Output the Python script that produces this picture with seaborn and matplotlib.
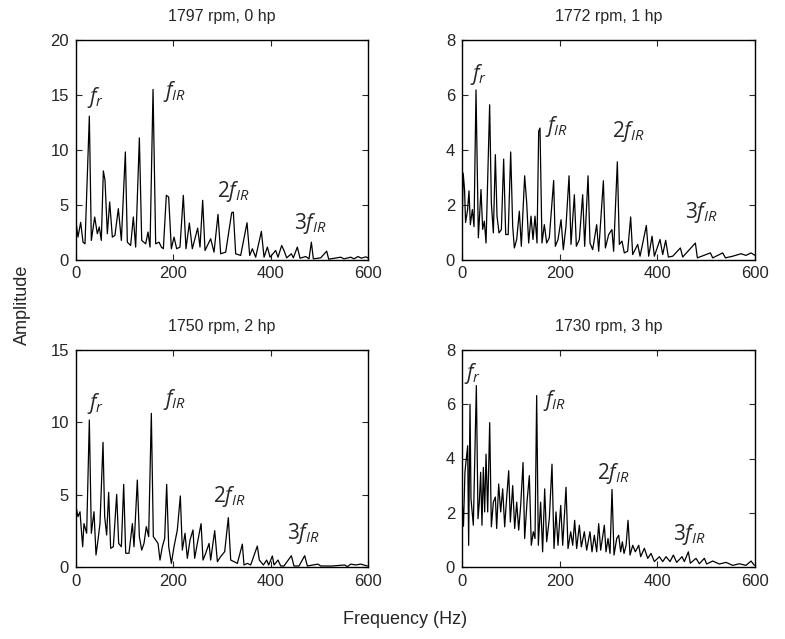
import numpy as np
import pandas as pd
import matplotlib
matplotlib.use("Agg")
import matplotlib.pyplot as plt
import seaborn as sns

# Envelope spectra of the inner-race fault signal at four load conditions
titles = ["1797 rpm, 0 hp", "1772 rpm, 1 hp", "1750 rpm, 2 hp", "1730 rpm, 3 hp"]

freq_0hp = [0, 4.1, 9.6, 14.4, 18.5, 27.4, 31.5, 38.4, 43.8, 47.9, 52, 56.2, 59.6, 64.4,
            69.2, 74.7, 80, 87, 93.2, 101.4, 105.5, 112.3, 117.8, 122.6, 130.2, 135,
            143.2, 148, 152.1, 158.3, 163.7, 170.6, 175.4, 179.5, 185.6, 190.4, 195.9,
            201.4, 206.9, 213.7, 220.5, 226, 232.9, 239, 250, 254.8, 260.3, 265.1,
            276.7, 283.6, 291.8, 297.3, 307.6, 319.9, 323.3, 328.1, 338.4, 351.4,
            356.9, 362.4, 369.2, 380.9, 386.4, 393.2, 398.7, 410.3, 415.1, 422.6,
            427.4, 432.9, 442.5, 446.6, 454.8, 460.3, 472, 478.8, 483.6, 487.7,
            502.8, 515.1, 519.2, 543.9, 550.7, 564.5, 571.3, 579.5, 586.4, 595.3, 600]
amp_0hp = [3.4, 2.04, 3.39, 1.58, 1.43, 13.06, 1.74, 3.87, 2.35, 2.96, 1.74, 8.07, 7.22, 2.35,
           5.24, 2.04, 2.2, 4.63, 1.74, 9.8, 1.58, 1.28, 3.87, 1.13, 11.08, 1.74,
           1.43, 2.5, 1.13, 15.5, 1.43, 1.58, 1.13, 0.98, 5.85, 5.69, 0.98,
           2.04, 0.98, 1.13, 5.85, 0.98, 3.32, 0.98, 2.86, 1.13, 5.39, 0.82,
           1.89, 0.67, 4.11, 0.52, 0.67, 4.26, 4.32, 0.52, 0.37, 3.35,
           0.37, 0.98, 0.21, 2.56, 0.21, 1.13, 0.21, 0.82, 0.21, 1.28,
           0.82, 0.15, 0.52, 0.15, 1.13, 0.12, 0.27, 0.06, 1.58, 0.06,
           0.15, 0.76, 0.03, 0.21, 0.06, 0.21, 0.06, 0.27, 0.12, 0.24, 0.15]

freq_1hp = [0, 2.4, 5.2, 7.3, 11.5, 14.3, 17.1, 21.2, 24.6, 28.7, 33.5, 38.9, 42.3, 45.7,
            49.2, 56.6, 60.1, 64.2, 68.3, 71.7, 75.8, 80.6, 85.3, 89.5, 94.6, 99.7,
            103.8, 107.2, 112, 117.4, 121.5, 128.3, 132.5, 136.5, 141.3, 145.4,
            149.5, 153.6, 157, 159.7, 163.8, 168.6, 173.4, 178.8, 187.7, 191.1,
            196.6, 202.8, 207.5, 212.9, 219.2, 223.2, 230.1, 234.2, 240.3, 247.1,
            251.2, 258.1, 262.1, 267.6, 275.8, 279.9, 289.5, 293.6, 300.4, 307,
            310.5, 318.1, 322.2, 327.6, 332.4, 339.2, 345.4, 349.5, 359.8, 364.6,
            377.5, 382.3, 389.2, 393.9, 405.5, 411, 417.1, 422.6, 431.5, 447.2,
            451.9, 477.9, 482, 508.6, 513.4, 533.9, 539.4, 554.4, 571.4, 581.6,
            591.9, 600]
amp_1hp = [1.0, 3.15, 2.55, 1.35, 1.82, 2.5, 1.27, 1.82, 1.2, 6.18, 0.79, 2.55, 1.1, 1.4,
           0.6, 5.64, 2.06, 0.97, 3.82, 1.58, 0.97, 1.09, 3.66, 0.91, 0.91, 3.92,
           1.21, 0.42, 0.73, 1.76, 0.48, 3.05, 2.06, 0.6, 1.58, 0.73,
           1.58, 0.6, 4.67, 4.79, 0.6, 1.27, 0.6, 0.79, 2.88, 0.48,
           0.73, 1.45, 0.36, 1.21, 3.05, 0.55, 2.36, 0.48, 0.73, 2.36,
           0.48, 3.05, 0.6, 0.36, 1.27, 0.3, 2.87, 0.42, 0.91, 1.09,
           0.3, 3.56, 0.55, 0.67, 0.24, 0.3, 1.55, 0.18, 0.55, 0.12,
           1.24, 0.12, 0.85, 0.12, 0.73, 0.18, 0.7, 0.09, 0.12, 0.42,
           0.09, 0.6, 0.06, 0.24, 0.06, 0.24, 0.06, 0.12, 0.21, 0.15,
           0.24, 0.15]

freq_2hp = [0, 4.1, 8.2, 11, 13.7, 16.4, 21.9, 27.4, 31.5, 37, 41.1, 45.2, 49.3, 55.5,
            58.9, 63, 67.1, 71.2, 76.7, 83.6, 87.7, 93.2, 98, 102.1, 108.9, 115.8,
            119.2, 126, 130.2, 135, 139.7, 144.5, 149.3, 154.8, 158.9, 163.7, 168.5,
            172.6, 177.4, 182.2, 186.3, 190.5, 196, 201.4, 208.2, 214.4, 218.5, 224,
            228.8, 234.3, 240.4, 243.8, 249.3, 257, 261, 266.5, 273.4, 276.7, 285,
            290.5, 297.3, 305.5, 313, 317.9, 324.7, 331.6, 341.8, 345.2, 352.1, 358.9,
            372.6, 376.7, 385, 391.8, 395.9, 403.5, 406.9, 415.1, 420.6, 427.4, 442.5,
            447.9, 458.2, 469.9, 475.4, 497.3, 502.8, 526.8, 552.1, 557.6, 564.5,
            574.7, 585, 598.7]
amp_2hp = [4.17, 3.48, 3.82, 2.56, 1.4, 3.0, 2.33, 10.16, 2.33, 3.82, 0.83, 1.87, 3.0, 8.62,
           3.48, 2.21, 5.16, 1.29, 1.4, 5.02, 1.63, 1.4, 5.71, 0.95, 0.95, 3.0,
           1.4, 6.01, 2.1, 1.17, 1.63, 2.79, 2.1, 10.62, 2.1, 1.87, 1.63,
           0.48, 1.4, 1.98, 5.71, 1.4, 0.25, 1.4, 2.56, 4.91, 1.17, 2.33,
           0.6, 1.87, 2.56, 0.6, 1.63, 3.0, 0.48, 0.95, 1.63, 0.48, 2.51,
           0.37, 0.72, 1.06, 3.41, 0.48, 0.37, 0.25, 1.58, 0.14, 0.25, 0.14,
           1.45, 0.48, 0.14, 0.48, 0.14, 0.76, 0.14, 0.48, 0.07, 0.07, 0.78,
           0.07, 0.07, 0.78, 0.07, 0.2, 0.07, 0.07, 0.14, 0.02, 0.2,
           0.14, 0.2, 0.07]

freq_3hp = [0, 3, 6, 11.6, 13.6, 16.4, 18.4, 23.2, 29.4, 32.8, 35.5, 38.2, 40.9, 43.7,
            46.4, 49.2, 52.6, 56.7, 60.1, 64.2, 68.3, 71, 75.1, 79.2, 83.3, 87.4,
            90.8, 95.6, 99, 103.8, 107.9, 112, 116.1, 120.2, 125, 128.3, 133.1,
            137.9, 141.9, 146, 149.5, 152.9, 156.3, 161, 165.1, 169.3, 173.4, 178.8,
            184.3, 188.4, 192.5, 196.6, 202.1, 206.2, 213, 217.1, 222.6, 226.7, 230.7,
            234.8, 240.3, 244.4, 250.5, 255.3, 262.1, 266.2, 271, 275.8, 279.9, 284,
            291.5, 294.9, 299, 303.1, 307.2, 311.3, 316.8, 320.9, 324.9, 328.4, 331.8,
            336, 340, 344.1, 349.6, 355, 361.9, 365.9, 373.4, 380.3, 387.1, 393.9,
            404.2, 411, 417.8, 426, 432.8, 439.6, 450.6, 455.3, 463.5, 467.6, 479.2,
            486, 496.3, 501, 513.4, 527, 540.7, 554.4, 568, 581.6, 591.9, 598.7]
amp_3hp = [2.6, 1.5, 3.5, 4.47, 0.8, 6.0, 2.52, 1.54, 6.69, 1.78, 2.39, 3.49, 1.54, 3.67,
           2.03, 4.16, 2.03, 5.32, 1.48, 2.39, 2.58, 1.42, 3.06, 2.03, 2.88, 1.48,
           2.39, 3.55, 1.66, 3.0, 1.42, 2.39, 1.36, 2.27, 3.85, 1.05, 2.39,
           3.37, 0.8, 1.3, 1.05, 6.32, 0.8, 2.39, 0.56, 2.88, 0.93, 1.78,
           3.79, 0.68, 2.03, 0.8, 2.27, 0.8, 2.94, 0.68, 1.3, 0.8, 1.72,
           0.68, 1.54, 0.74, 1.3, 0.62, 1.3, 0.56, 1.17, 0.56, 1.6, 0.62,
           1.54, 0.56, 1.05, 0.5, 2.86, 0.44, 1.05, 1.17, 0.56, 0.93, 0.5,
           0.8, 1.72, 0.44, 0.8, 0.56, 0.8, 0.38, 0.69, 0.32, 0.5, 0.2,
           0.38, 0.2, 0.38, 0.2, 0.44, 0.17, 0.38, 0.2, 0.56, 0.14, 0.32,
           0.12, 0.32, 0.11, 0.22, 0.11, 0.17, 0.06, 0.12, 0.06, 0.22, 0.06]

freqs = [freq_0hp, freq_1hp, freq_2hp, freq_3hp]
amps = [amp_0hp, amp_1hp, amp_2hp, amp_3hp]
ylims = [20, 8, 15, 8]
yticks = [[0, 5, 10, 15, 20], [0, 2, 4, 6, 8], [0, 5, 10, 15], [0, 2, 4, 6, 8]]
xticks = [0, 200, 400, 600]

# Harmonic labels: (text, frequency, amplitude) for each panel
label_text = [r"$f_r$", r"$f_{IR}$", r"$2f_{IR}$", r"$3f_{IR}$"]
label_freq = [[22, 178, 289, 448], [16, 170, 307, 457], [22, 178, 281, 434], [5, 165, 276, 432]]
label_amp = [[14.8, 15.3, 6.2, 3.3], [6.75, 4.85, 4.65, 1.7], [11.3, 11.6, 4.9, 2.3], [7.15, 6.15, 3.45, 1.2]]

sns.set_style("ticks")
plt.rcParams["font.family"] = ["Liberation Sans", "DejaVu Sans"]
plt.rcParams["mathtext.fontset"] = "custom"
plt.rcParams["mathtext.it"] = "Open Sans:italic"
plt.rcParams["mathtext.rm"] = "Open Sans"

fig = plt.figure(figsize=(7.85, 6.39), dpi=100)
W, H = 785, 639
boxes = [(76, 40, 368, 259.5), (462, 40, 755, 259.5),
         (76, 350, 368, 567), (462, 350, 755, 567)]

for i in range(4):
    x0, y0, x1, y1 = boxes[i]
    ax = fig.add_axes([x0 / W, 1 - y1 / H, (x1 - x0) / W, (y1 - y0) / H])
    df = pd.DataFrame({"Frequency": freqs[i], "Amplitude": amps[i]})
    sns.lineplot(data=df, x="Frequency", y="Amplitude", ax=ax, color="black",
                 linewidth=0.9, estimator=None, sort=False)
    ax.set_xlim(0, 600)
    ax.set_ylim(0, ylims[i])
    ax.set_xticks(xticks)
    ax.set_yticks(yticks[i])
    ax.set_xlabel("")
    ax.set_ylabel("")
    ax.tick_params(direction="in", top=True, right=True, length=4, width=0.8,
                   labelsize=12, pad=5)
    for s in ax.spines.values():
        s.set_linewidth(1.0)
        s.set_color("black")
    ax.set_title(titles[i], fontsize=11.5, pad=14)
    for t, f, a in zip(label_text, label_freq[i], label_amp[i]):
        ax.text(f, a, t, fontsize=15, ha="left", va="center")

fig.text(22 / W, 1 - 305 / H, "Amplitude", rotation=90, ha="center", va="center", fontsize=13)
fig.text(405 / W, 1 - 620 / H, "Frequency (Hz)", ha="center", va="center", fontsize=13)

fig.savefig("out.png", dpi=100)
